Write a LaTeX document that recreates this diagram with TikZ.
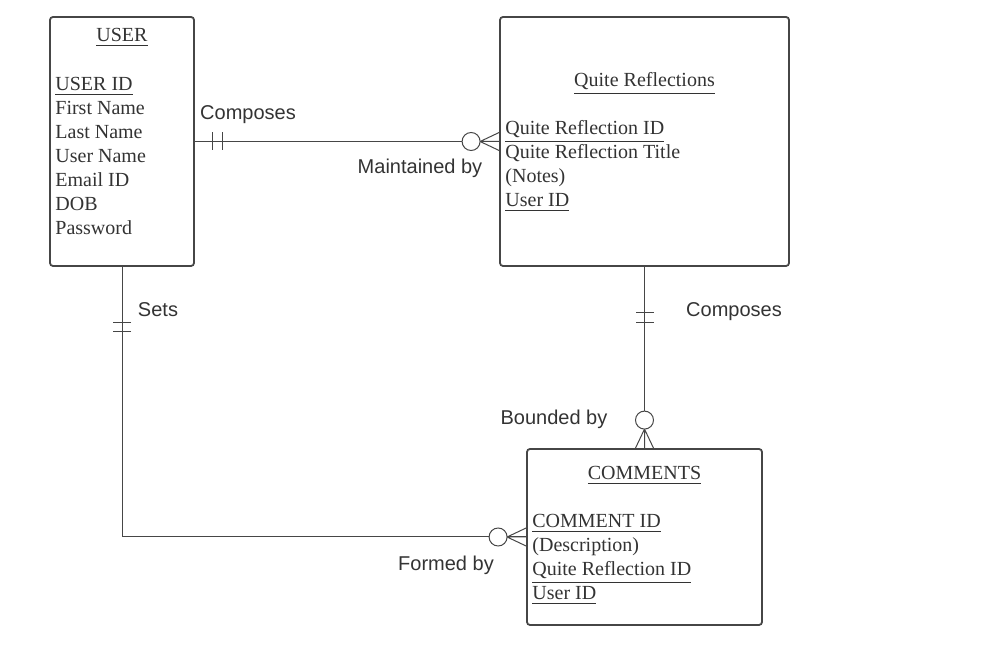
\documentclass[tikz,border=0pt]{standalone}
\usepackage{fontspec}
\setmainfont{Liberation Serif}
\setsansfont{Liberation Sans}
\usetikzlibrary{calc,positioning}
\definecolor{erline}{RGB}{70,70,70}
\definecolor{ertext}{RGB}{51,51,51}
\tikzset{
    % Entity styles
    entity box/.style={
        draw=erline,
        line width=0.9pt,
        rounded corners=1.5pt,
        inner sep=0pt,
        fill=white
    },
    entity title/.style={
        anchor=base,
        inner sep=0pt,
        text=ertext,
        font=\rmfamily\fontsize{10}{12}\selectfont
    },
    attr text/.style={
        anchor=base west,
        inner sep=0pt,
        text=ertext,
        font=\rmfamily\fontsize{10}{12}\selectfont
    },
    % Relationship styles
    rel label/.style={
        anchor=base,
        inner sep=0pt,
        text=ertext,
        font=\sffamily\fontsize{10}{12}\selectfont
    },
    rel line/.style={
        draw=erline,
        line width=0.5pt
    },
    % Cardinality marks
    one bar/.pic={
        \draw[rel line] (0,-9) -- (0,9);
    },
    zero many/.pic={
        \draw[rel line] (-19,0) -- (0,9) (-19,0) -- (0,-9) (-19,0) -- (0,0);
        \draw[rel line, fill=white] (-28,0) circle[radius=4.5pt];
    }
}

\begin{document}
\begin{tikzpicture}[x=0.5pt, y=-0.5pt]
        \useasboundingbox (0,0) rectangle (1003,662);

        % Entities
        \node[entity box, minimum width=72pt, minimum height=124.5pt] (user) at (122,141.5) {};
        \node[entity box, minimum width=144.5pt, minimum height=124.5pt] (qr) at (644.5,141.5) {};
        \node[entity box, minimum width=117.5pt, minimum height=88pt] (comments) at (644.5,537) {};

        % Titles
        \node[entity title] (usertitle) at (122,42) {\underline{USER}};
        \node[entity title] (qrtitle) at (644.5,87) {\underline{Quite Reflections}};
        \node[entity title] (commentstitle) at (644.5,480) {\underline{COMMENTS}};

        % Attributes
        \foreach \txt [count=\i from 0] in {{\underline{USER ID}},First Name,Last Name,User Name,Email ID,DOB,Password} {
            \node[attr text] (user\i) at (55,{91+24*\i}) {\txt};
        }
        \foreach \txt [count=\i from 0] in {{\underline{Quite Reflection ID}},Quite Reflection Title,(Notes),{\underline{User ID}}} {
            \node[attr text] (qr\i) at (505,{135+24*\i}) {\txt};
        }
        \foreach \txt [count=\i from 0] in {{\underline{COMMENT ID}},(Description),{\underline{Quite Reflection ID}},{\underline{User ID}}} {
            \node[attr text] (comments\i) at (532,{528+24*\i}) {\txt};
        }

        % Relationships
        \draw[rel line] (user.east) -- (qr.west);
        \pic at ($(user.east)+(18,0)$) {one bar};
        \pic at ($(user.east)+(28,0)$) {one bar};
        \pic at (qr.west) {zero many};

        \draw[rel line] (qr.south) -- (comments.north);
        \pic[rotate=-90] at ($(qr.south)+(0,46)$) {one bar};
        \pic[rotate=-90] at ($(qr.south)+(0,56)$) {one bar};
        \pic[rotate=-90] at (comments.north) {zero many};

        \draw[rel line] (user.south) |- (comments.west);
        \pic[rotate=-90] at ($(user.south)+(0,56)$) {one bar};
        \pic[rotate=-90] at ($(user.south)+(0,65)$) {one bar};
        \pic at (comments.west) {zero many};

        % Labels
        \node[rel label] (composesa) at (248,120) {Composes};
        \node[rel label] (maintained) at (420,174) {Maintained by};
        \node[rel label] (sets) at (158,317) {Sets};
        \node[rel label] (composesb) at (734,317) {Composes};
        \node[rel label] (bounded) at (554,425) {Bounded by};
        \node[rel label] (formed) at (446,571) {Formed by};
    \end{tikzpicture}
\end{document}
